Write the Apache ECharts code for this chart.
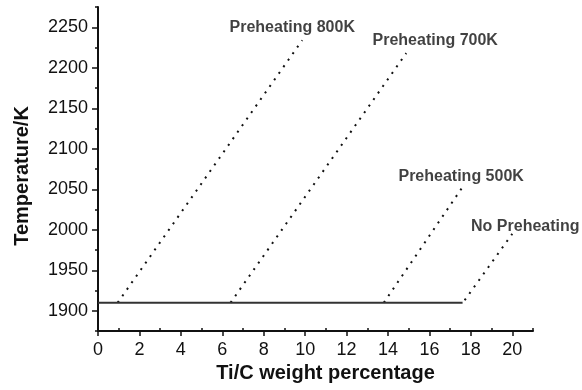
<!DOCTYPE html>
<html>
<head>
<meta charset="utf-8">
<script src="https://cdn.jsdelivr.net/npm/echarts@6/dist/echarts.min.js"></script>
<style>
  html, body { margin: 0; padding: 0; background: #fff; }
  #chart { width: 582px; height: 390px; }
</style>
</head>
<body>
<div id="chart"></div>
<script>
// Adiabatic temperature vs. Ti/C weight percentage
const xMajorTicks = [0, 2, 4, 6, 8, 10, 12, 14, 16, 18, 20];
const xMinorTicks = [1, 3, 5, 7, 9, 11, 13, 15, 17, 19, 21];
const yMajorTicks = [1900, 1950, 2000, 2050, 2100, 2150, 2200, 2250];
const yMinorTicks = [1875, 1925, 1975, 2025, 2075, 2125, 2175, 2225, 2275];

// melting-point plateau (solid line)
const plateau = [[0, 1910], [17.6, 1910]];

// preheating curves: start on the plateau, rise linearly
const curveNames = ['Preheating 800K', 'Preheating 700K', 'Preheating 500K', 'No Preheating'];
const preheat800 = [[0.95, 1910], [9.86, 2234]];
const preheat700 = [[6.4, 1910], [14.88, 2218]];
const preheat500 = [[13.8, 1910], [17.58, 2052]];
const noPreheat = [[17.7, 1913], [20.0, 1995]];

const curves = [preheat800, preheat700, preheat500, noPreheat];
const labelOffsets = [[-10, 0], [29, 0], [-1, 2], [13, 6]];

const FONT = '"Liberation Sans", Arial, sans-serif';
const INK = '#111';

const chart = echarts.init(document.getElementById('chart'), null, { renderer: 'canvas' });

const dotted = curves.map((d) => ({
  type: 'line',
  data: d,
  symbol: 'none',
  silent: true,
  lineStyle: { color: INK, width: 2, type: [2, 6] },
  z: 2
}));

const labels = {
  type: 'scatter',
  symbolSize: 0,
  silent: true,
  data: curves.map((d, i) => ({
    value: d[d.length - 1],
    label: {
      show: true,
      position: 'top',
      offset: labelOffsets[i],
      formatter: curveNames[i],
      fontFamily: FONT,
      fontWeight: 'bold',
      fontSize: 16,
      color: INK
    }
  })),
  z: 5
};

const plain = (v) => String(v);

const option = {
  animation: false,
  backgroundColor: '#fff',
  grid: { left: 98, right: 49, top: 7, bottom: 59, containLabel: false },
  xAxis: [
    {
      type: 'value', min: 0, max: 21, interval: 1,
      name: 'Ti/C weight percentage',
      nameLocation: 'middle', nameGap: 31,
      nameTextStyle: { fontFamily: FONT, fontWeight: 'bold', fontSize: 20, color: INK, padding: [0, 0, 0, 20] },
      axisLine: { show: true, lineStyle: { color: INK, width: 2 } },
      axisTick: { show: true, customValues: xMajorTicks, length: 5, inside: false, lineStyle: { color: INK, width: 1.5 } },
      axisLabel: { customValues: xMajorTicks, formatter: plain, fontFamily: FONT, fontSize: 18, color: INK, margin: 10 },
      splitLine: { show: false }
    },
    {
      type: 'value', min: 0, max: 21, interval: 1, position: 'bottom',
      axisLine: { show: false },
      axisTick: { show: true, customValues: xMinorTicks, length: 3, inside: true, lineStyle: { color: INK, width: 1.5 } },
      axisLabel: { show: false },
      splitLine: { show: false }
    }
  ],
  yAxis: [
    {
      type: 'value', min: 1875, max: 2275, interval: 25,
      name: 'Temperature/K',
      nameLocation: 'middle', nameGap: 66, nameRotate: 90,
      nameTextStyle: { fontFamily: FONT, fontWeight: 'bold', fontSize: 20, color: INK, padding: [0, 14, 0, 0] },
      axisLine: { show: true, lineStyle: { color: INK, width: 2 } },
      axisTick: { show: true, customValues: yMajorTicks, length: 6, inside: false, lineStyle: { color: INK, width: 1.5 } },
      axisLabel: { customValues: yMajorTicks, formatter: plain, fontFamily: FONT, fontSize: 18, color: INK, margin: 10 },
      splitLine: { show: false }
    },
    {
      type: 'value', min: 1875, max: 2275, interval: 25, position: 'left',
      axisLine: { show: false },
      axisTick: { show: true, customValues: yMinorTicks, length: 3, inside: false, lineStyle: { color: INK, width: 1.5 } },
      axisLabel: { show: false },
      splitLine: { show: false }
    }
  ],
  series: [
    {
      type: 'line',
      data: plateau,
      symbol: 'none',
      silent: true,
      lineStyle: { color: '#333', width: 2, type: 'solid' },
      z: 3
    },
    ...dotted,
    labels
  ]
};

chart.setOption(option);
</script>
</body>
</html>
